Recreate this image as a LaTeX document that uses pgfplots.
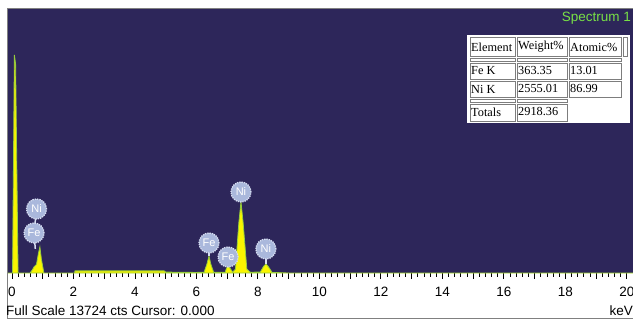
\documentclass[border=0pt]{standalone}
\usepackage{pgfplots}
\pgfplotsset{compat=1.18}
\usepackage{fontspec}
\setmainfont{Liberation Sans}
\newfontfamily\seriffont{Liberation Serif}
\definecolor{bgpurple}{RGB}{45,38,90}
\definecolor{speclime}{RGB}{150,205,60}
\definecolor{specyellow}{RGB}{250,245,0}
\definecolor{badgefill}{RGB}{170,184,220}
\definecolor{badgering}{RGB}{215,222,242}
\definecolor{titlegreen}{RGB}{120,225,70}
\definecolor{cellgray}{RGB}{125,125,125}
\begin{document}
\begin{tikzpicture}
\useasboundingbox (0,0) rectangle (633bp,320bp);
\fill[white] (0,0) rectangle (633bp,320bp);
\begin{axis}[
  at={(7bp,47bp)}, anchor=south west,
  scale only axis, width=626bp, height=265bp,
  xmin=-0.16, xmax=20.2, ymin=0, ymax=13724,
  axis background/.style={fill=bgpurple},
  axis line style={draw=none},
  xtick={0,2,...,20},
  extra x ticks={1,3,...,19},
  extra x tick labels={},
  minor x tick num=9,
  ytick=\empty,
  xtick pos=bottom,
  tick align=outside,
  major tick length=6bp,
  minor tick length=3.5bp,
  tick style={black, line width=0.8bp},
  every extra x tick/.style={tick style={black, line width=0.8bp}},
  /pgf/number format/assume math mode=true,
  xticklabel style={font=\fontsize{13.5bp}{16bp}\selectfont, text=black, yshift=-5bp},
  clip=false,
]
\addplot[draw=speclime, line width=0.8bp, fill=specyellow] coordinates {
(-0.16,0) (0.02,0) (0.08,11300) (0.12,10800) (0.20,0)
(0.59,0) (0.66,150) (0.72,320) (0.80,450) (0.86,1000) (0.91,1350) (0.96,700) (1.04,0)
(2.04,0) (2.05,110) (4.95,110) (5.00,50) (5.5,35) (6.0,30)
(6.25,40) (6.34,450) (6.41,880) (6.47,450) (6.56,40)
(6.93,30) (6.99,280) (7.03,415) (7.08,280) (7.18,40)
(7.27,200) (7.38,2600) (7.45,3680) (7.52,2600) (7.64,200) (7.75,40)
(8.08,50) (8.18,330) (8.26,470) (8.34,330) (8.46,30)
(9.0,0) (20.2,0)
} \closedcycle;
% badge connectors
\draw[badgering, line width=1.5bp] (axis cs:0.80,3315) -- (axis cs:0.72,2072) -- (axis cs:0.76,1250);
\draw[badgering, line width=1.5bp] (axis cs:6.41,1554) -- (axis cs:6.41,880);
\draw[badgering, line width=1.5bp] (axis cs:7.03,829) -- (axis cs:7.03,415);
\draw[badgering, line width=1.5bp] (axis cs:7.45,4195) -- (axis cs:7.45,3680);
\draw[badgering, line width=1.5bp] (axis cs:8.26,1243) -- (axis cs:8.26,470);
\tikzset{badge/.style={circle, minimum size=20bp, inner sep=0pt, fill=badgefill,
  draw=badgering, line width=1.3bp, densely dotted, text=white,
  font=\fontsize{11bp}{12bp}\selectfont}}
\node[badge] at (axis cs:0.80,3315) {Ni};
\node[badge] at (axis cs:0.72,2072) {Fe};
\node[badge] at (axis cs:6.41,1554) {Fe};
\node[badge] at (axis cs:7.03,829) {Fe};
\node[badge] at (axis cs:7.45,4195) {Ni};
\node[badge] at (axis cs:8.26,1243) {Ni};
\end{axis}
\begin{scope}[x=1bp,y=-1bp,shift={(0,320bp)}]
% frame
\draw[gray, line width=0.8bp] (7,8) rectangle (640,318);
% texts
\node[anchor=west, inner sep=0pt, font=\fontsize{13.5bp}{16bp}\selectfont] at (6,311) {Full Scale 13724 cts Cursor: 0.000};
\node[anchor=east, inner sep=0pt, font=\fontsize{13.5bp}{16bp}\selectfont] at (633,311) {keV};
\node[anchor=east, inner sep=0pt, text=titlegreen, font=\fontsize{13.5bp}{16bp}\selectfont] at (631,18) {Spectrum 1};
% table
\fill[white] (467,35) rectangle (630,123);
\tikzset{cell/.style={draw=cellgray, line width=0.8bp}}
\foreach \a/\b in {470/515,517/567,569/621}{
  \draw[cell] (\a,37) rectangle (\b,56);
  \draw[cell] (\a,58) rectangle (\b,61);
  \draw[cell] (\a,63) rectangle (\b,79);
  \draw[cell] (\a,81) rectangle (\b,97);
}
\draw[cell] (623,37) rectangle (627,56);
\foreach \a/\b in {470/515,517/567}{
  \draw[cell] (\a,99) rectangle (\b,102);
  \draw[cell] (\a,104) rectangle (\b,121);
}
\tikzset{ct/.style={anchor=west, inner sep=0pt, font=\seriffont\fontsize{12.3bp}{14bp}\selectfont}}
\node[ct] at (471,47) {Element};
\node[ct] at (518,47) {Weight\%};
\node[ct] at (570,47) {Atomic\%};
\node[ct] at (471,71) {Fe K};
\node[ct] at (518,71) {363.35};
\node[ct] at (570,71) {13.01};
\node[ct] at (471,89) {Ni K};
\node[ct] at (518,89) {2555.01};
\node[ct] at (570,89) {86.99};
\node[ct] at (471,112) {Totals};
\node[ct] at (518,112) {2918.36};
\end{scope}
\end{tikzpicture}
\end{document}
